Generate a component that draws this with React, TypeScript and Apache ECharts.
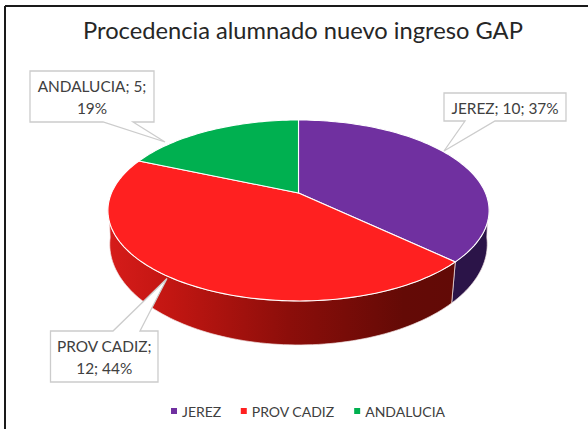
import React, { useEffect, useRef } from "react";
import * as echarts from "echarts";

const titleText = "Procedencia alumnado nuevo ingreso GAP";
const categories = ["JEREZ", "PROV CADIZ", "ANDALUCIA"];
const values = [10, 12, 5];
const percents = [37, 44, 19];
const colors = ["#7030A0", "#FF2020", "#00B050"];
const labelLines = [
  (i: number) => `${categories[i]}; ${values[i]}; ${percents[i]}%`,
  (i: number) => `${categories[i]};\n${values[i]}; ${percents[i]}%`,
  (i: number) => `${categories[i]}; ${values[i]};\n${percents[i]}%`,
];

// label callouts: box [x0,y0,x1,y1], wedge base on the box edge, wedge tip
const callouts = [
  { box: [444, 93, 566, 121], base: [465, 495], tip: [444, 151], edge: "bottom" },
  { box: [50.5, 331, 158, 382], base: [113, 140], tip: [167, 278.5], edge: "top" },
  { box: [30, 71, 154, 122], base: [103, 133], tip: [165, 142], edge: "bottom" },
];

// perspective projection of the pie disc
const CX = 298.5;
type Frame = { yc: number; a: number; b: number; k: number };
const TOP: Frame = { yc: 193, a: 87.1, b: 187, k: -0.193 };
const BOTTOM: Frame = { yc: 227, a: 97.9, b: 186, k: -0.17 };
const total = values.reduce((s, v) => s + v, 0);
const project = (deg: number, f: Frame) => {
  const t = (deg * Math.PI) / 180;
  const u = Math.sin(t);
  const v = -Math.cos(t);
  const d = 1 + f.k * v;
  return [CX + (f.b * u) / d, f.yc + (f.a * v) / d];
};
const arc = (a0: number, a1: number, f: Frame) => {
  const n = Math.max(2, Math.ceil(Math.abs(a1 - a0) / 1.5));
  const pts: number[][] = [];
  for (let i = 0; i <= n; i++) pts.push(project(a0 + ((a1 - a0) * i) / n, f));
  return pts;
};

const wallStyle = (i: number) => {
  if (i === 0) return "#2B1448";
  return new echarts.graphic.LinearGradient(0, 0, 1, 0, [
    { offset: 0, color: "#D61C1A" },
    { offset: 0.18, color: "#C21612" },
    { offset: 0.52, color: "#8C0E0A" },
    { offset: 0.85, color: "#640A06" },
    { offset: 1, color: "#620A06" },
  ]);
};

function makeSeries(i: number) {
  const before = values.slice(0, i).reduce((s, v) => s + v, 0);
  const start = (before / total) * 360;
  const end = ((before + values[i]) / total) * 360;
  const c = callouts[i];
  const [x0, y0, x1, y1] = c.box;
  const calloutPts =
    c.edge === "bottom"
      ? [[x0, y0], [x1, y0], [x1, y1], [c.base[1], y1], c.tip, [c.base[0], y1], [x0, y1]]
      : [[x0, y0], [c.base[0], y0], c.tip, [c.base[1], y0], [x1, y0], [x1, y1], [x0, y1]];
  return {
    type: "custom",
    name: categories[i],
    coordinateSystem: "none",
    silent: true,
    itemStyle: { color: colors[i] },
    data: [values[i]],
    renderItem: () => {
      const children: any[] = [];
      const ws = Math.max(start, 96);
      const we = Math.min(end, 264);
      if (we > ws) {
        const pts = arc(ws, we, TOP).concat(arc(we, ws, BOTTOM));
        children.push({
          type: "polygon",
          shape: { points: pts },
          style: { fill: wallStyle(i), stroke: "#F2E4E4", lineWidth: 0.7 },
        });
      }
      const face = [[CX, TOP.yc]].concat(arc(start, end, TOP));
      children.push({
        type: "polygon",
        shape: { points: face },
        style: { fill: colors[i], stroke: "#FFFFFF", lineWidth: 1.1 },
      });
      children.push({
        type: "polygon",
        shape: { points: calloutPts },
        style: { fill: "#FFFFFF", stroke: "#CCCCCC", lineWidth: 1.3 },
      });
      children.push({
        type: "text",
        style: {
          text: labelLines[i](i),
          x: (x0 + x1) / 2,
          y: (y0 + y1) / 2 + 0.5,
          align: "center",
          verticalAlign: "middle",
          fill: "#404040",
          font: "15.4px Lato",
          lineHeight: 22.5,
        },
      });
      return { type: "group", children };
    },
  };
}

export default function App() {
  const ref = useRef<HTMLDivElement>(null);
  useEffect(() => {
    const chart = echarts.init(ref.current!, null, { renderer: "svg" });
    chart.setOption({
      animation: false,
      backgroundColor: "#FFFFFF",
      title: {
        text: titleText,
        left: 83,
        top: 18,
        padding: 0,
        textStyle: { fontFamily: "Lato", fontSize: 23.7, fontWeight: "normal", color: "#262626" },
      },
      legend: {
        left: 171,
        top: 404,
        padding: 0,
        itemWidth: 6,
        itemHeight: 6,
        itemGap: 19.5,
        icon: "rect",
        data: categories,
        textStyle: { fontFamily: "Lato", fontSize: 14, color: "#404040" },
      },
      graphic: [
        { type: "line", shape: { x1: 5, y1: 6, x2: 588, y2: 6 }, style: { stroke: "#1A1A1A", lineWidth: 2 } },
        { type: "line", shape: { x1: 5, y1: 6, x2: 5, y2: 429 }, style: { stroke: "#1A1A1A", lineWidth: 2 } },
      ],
      series: categories.map((_, i) => makeSeries(i)),
    });
    return () => chart.dispose();
  }, []);
  return <div ref={ref} style={{ position: "fixed", left: 0, top: 0, width: 588, height: 429 }} />;
}
